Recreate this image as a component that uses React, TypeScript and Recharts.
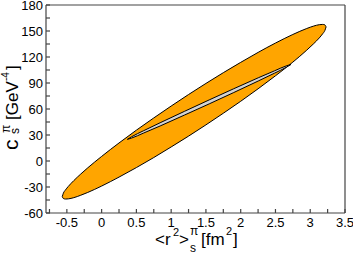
import React from "react";
import { ComposedChart, Area, XAxis, YAxis } from "recharts";

// outer (orange) contour: x, lower edge, upper edge
const outerX = [-0.566, -0.55, -0.52, -0.48, -0.4, -0.3, -0.2, 0, 0.25, 0.5, 0.75, 1, 1.25, 1.5, 1.75, 2, 2.25, 2.5, 2.75, 2.95, 3.05, 3.13, 3.18, 3.21, 3.228];
const outerLo = [-41.0, -43.3, -43.9, -43.7, -42.3, -39.5, -36.3, -28.9, -18.6, -7.6, 4.0, 16.2, 28.7, 41.7, 55.1, 68.9, 83.3, 98.3, 114.1, 127.9, 135.4, 142.0, 146.9, 150.5, 154.7];
const outerHi = [-41.0, -37.1, -33.4, -29.4, -22.6, -15.0, -7.9, 5.3, 20.8, 35.6, 49.7, 63.4, 76.7, 89.5, 101.9, 113.8, 125.3, 136.1, 146.0, 152.9, 155.7, 157.3, 157.6, 157.1, 154.7];

// inner (grey) contour
const innerX = [0.37, 0.429, 0.605, 0.841, 1.194, 1.547, 1.9, 2.252, 2.488, 2.664, 2.723];
const innerLo = [25.0, 26.4, 32.3, 40.4, 53.1, 65.9, 79.0, 92.3, 101.4, 108.5, 111.4];
const innerHi = [25.0, 27.9, 35.0, 44.1, 57.4, 70.5, 83.4, 96.0, 104.1, 110.0, 111.4];

// tick positions (major ones carry a label)
const xTicks = [-0.75, -0.5, -0.25, 0, 0.25, 0.5, 0.75, 1, 1.25, 1.5, 1.75, 2, 2.25, 2.5, 2.75, 3, 3.25, 3.5];
const xLabels = [-0.5, 0, 0.5, 1, 1.5, 2, 2.5, 3, 3.5];
const yTicks = [-60, -45, -30, -15, 0, 15, 30, 45, 60, 75, 90, 105, 120, 135, 150, 165, 180];
const yLabels = [-60, -30, 0, 30, 60, 90, 120, 150, 180];

const X_DOMAIN = [-0.8, 3.5];
const Y_DOMAIN = [-60, 180];

const outerData = outerX.map((x, i) => ({ x, band: [outerLo[i], outerHi[i]] }));
const innerData = innerX.map((x, i) => ({ x, band: [innerLo[i], innerHi[i]] }));

const FRAME = "#444";
const FONT = "'Liberation Sans', Arial, sans-serif";

const BottomTick = (props: any) => {
    const { x, y, payload } = props;
    if (!xLabels.includes(payload.value)) return <g />;
    return (
        <text x={x} y={y + 13.5} textAnchor="middle" fontSize={13} fontFamily={FONT} fill="#000">
            {payload.value}
        </text>
    );
};

const LeftTick = (props: any) => {
    const { x, y, payload } = props;
    if (!yLabels.includes(payload.value)) return <g />;
    return (
        <text x={x - 3} y={y + 4.5} textAnchor="end" fontSize={13} fontFamily={FONT} fill="#000">
            {payload.value}
        </text>
    );
};

const XTitle = () => (
    <g fontFamily={FONT} fill="#000" stroke="none">
        <text x={155} y={245} fontSize={17}>&lt;r</text>
        <text x={173} y={236} fontSize={11}>2</text>
        <text x={179} y={245} fontSize={17}>&gt;</text>
        <text x={190} y={235} fontSize={12}>π</text>
        <text x={190} y={252} fontSize={12}>s</text>
        <text x={201} y={245} fontSize={17}>[fm</text>
        <text x={226} y={235} fontSize={11}>2</text>
        <text x={233} y={245} fontSize={17}>]</text>
    </g>
);

const YTitle = () => (
    <g transform="translate(18,150) rotate(-90)" fontFamily={FONT} fill="#000" stroke="none">
        <text x={0} y={0} fontSize={21}>c</text>
        <text x={17} y={-8} fontSize={12}>π</text>
        <text x={16} y={1} fontSize={12}>s</text>
        <text x={30} y={0} fontSize={17}>[GeV</text>
        <text x={69} y={-9} fontSize={10}>-4</text>
        <text x={80} y={0} fontSize={17}>]</text>
    </g>
);

export default function App() {
    return (
        <div style={{ width: 353, height: 255 }}>
            <style>{"body{margin:0}"}</style>
            <ComposedChart width={353} height={255} margin={{ top: -15, right: -12, left: 0, bottom: 0 }}>
                <XAxis
                    dataKey="x"
                    type="number"
                    domain={X_DOMAIN}
                    ticks={xTicks}
                    interval={0}
                    height={42}
                    tickSize={-4}
                    tickMargin={4}
                    stroke={FRAME}
                    strokeWidth={1.2}
                    tick={<BottomTick />}
                    label={{ content: <XTitle /> }}
                />
                <XAxis
                    xAxisId="top"
                    orientation="top"
                    type="number"
                    domain={X_DOMAIN}
                    ticks={xTicks}
                    interval={0}
                    height={20}
                    tickSize={-4}
                    stroke={FRAME}
                    strokeWidth={1.2}
                    tick={false}
                />
                <YAxis
                    type="number"
                    domain={Y_DOMAIN}
                    ticks={yTicks}
                    interval={0}
                    width={46}
                    tickSize={-4}
                    tickMargin={4}
                    stroke={FRAME}
                    strokeWidth={1.2}
                    tick={<LeftTick />}
                    label={{ content: <YTitle /> }}
                />
                <YAxis
                    yAxisId="right"
                    orientation="right"
                    type="number"
                    domain={Y_DOMAIN}
                    ticks={yTicks}
                    interval={0}
                    width={20}
                    tickSize={-4}
                    stroke={FRAME}
                    strokeWidth={1.2}
                    tick={false}
                />
                <Area
                    data={outerData}
                    dataKey="band"
                    type="monotone"
                    fill="#FFA500"
                    fillOpacity={1}
                    stroke="#000"
                    strokeWidth={1}
                    dot={false}
                    activeDot={false}
                    isAnimationActive={false}
                />
                <Area
                    data={innerData}
                    dataKey="band"
                    type="monotone"
                    fill="#D3D3D3"
                    fillOpacity={1}
                    stroke="#000"
                    strokeWidth={1}
                    dot={false}
                    activeDot={false}
                    isAnimationActive={false}
                />
            </ComposedChart>
        </div>
    );
}
